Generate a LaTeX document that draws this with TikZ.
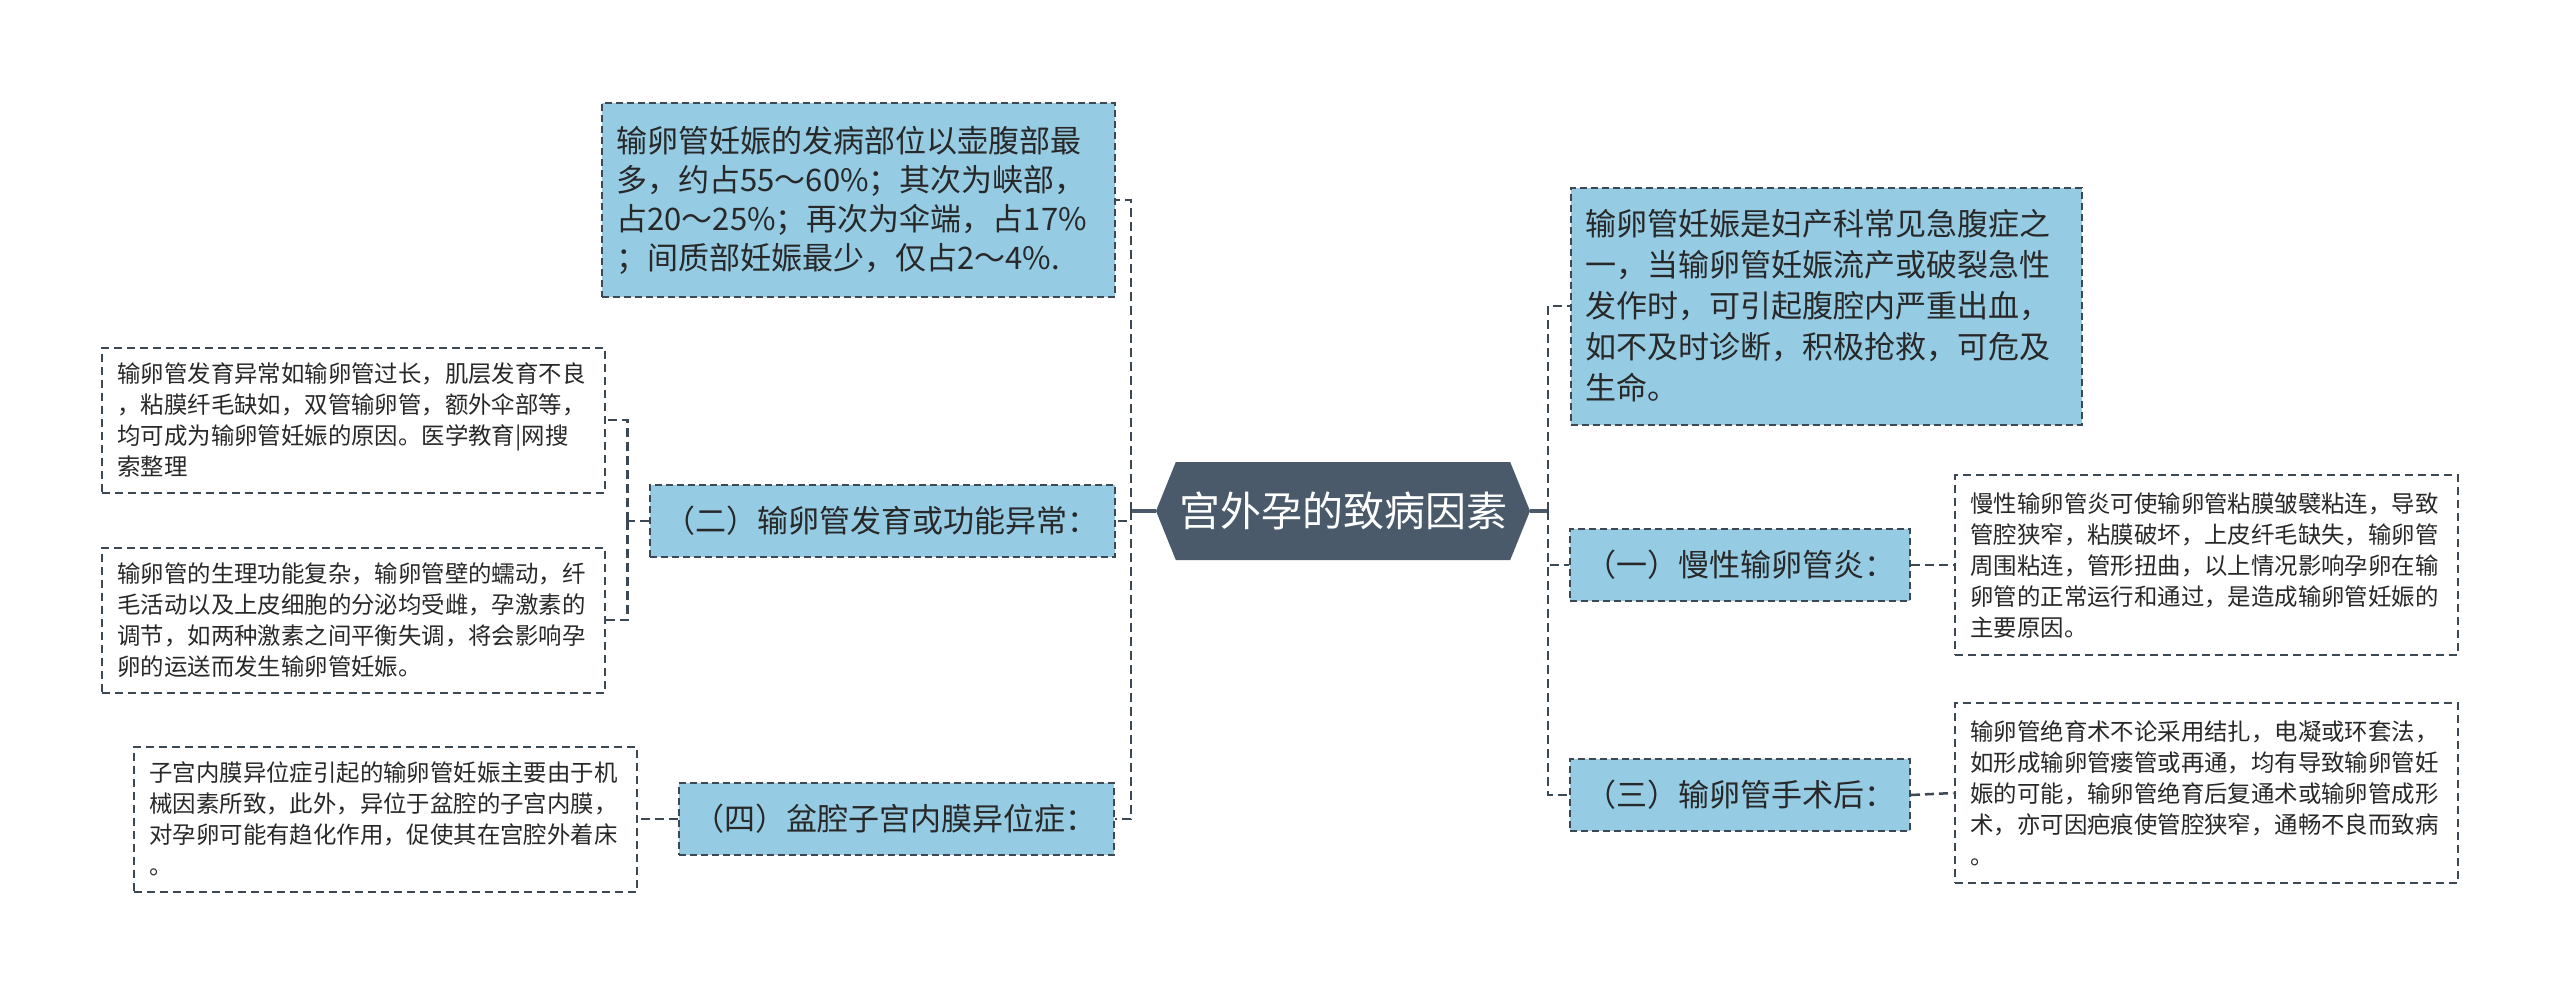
\documentclass[tikz,border=0pt]{standalone}
\usepackage{fontspec}
\setmainfont{Noto Sans CJK SC}
\usetikzlibrary{shapes.symbols}
\definecolor{rootfill}{RGB}{74,90,106}
\definecolor{topicfill}{RGB}{149,203,227}
\definecolor{edgegray}{RGB}{60,72,84}
\definecolor{inkgray}{RGB}{40,40,40}
\tikzset{
  rootnode/.style={signal, signal to=east and west, signal pointer angle=136,
    fill=rootfill, text=white, font=\fontsize{41}{49}\selectfont,
    minimum width=374pt, minimum height=98pt, inner sep=0pt},
  topic/.style={draw=edgegray, line width=2pt, dash pattern=on 7pt off 4pt,
    fill=topicfill, text=inkgray, font=\fontsize{31}{39}\selectfont,
    align=left, inner xsep=15pt, inner ysep=0pt},
  note/.style={draw=edgegray, line width=2pt, dash pattern=on 8pt off 5pt,
    fill=white, text=inkgray, font=\fontsize{23.4}{31}\selectfont,
    align=left, inner xsep=16pt, inner ysep=0pt, text width=471pt,
    minimum height=145pt},
  link/.style={draw=edgegray, line width=2.5pt, dash pattern=on 9pt off 5pt},
  stub/.style={draw=rootfill, line width=3.5pt},
}
\begin{document}
\begin{tikzpicture}[x=1pt, y=-1pt]
  \useasboundingbox[fill=white] (0,0) rectangle (2560,996);
  %
  % Root
  \node[rootnode] (root) at (1343,511) {宫外孕的致病因素};
  %
  % Left branch
  \node[topic, text width=483pt, minimum height=194pt] (site) at (858,200)
    {输卵管妊娠的发病部位以壶腹部最\\多，约占55～60\%；其次为峡部，\\占20～25\%；再次为伞端，占17\%\\；间质部妊娠最少，仅占2～4\%.};
  \node[topic, text width=435pt, minimum height=72pt] (devfunc) at (882,521)
    {（二）输卵管发育或功能异常：};
  \node[topic, text width=405pt, minimum height=72pt] (endomet) at (896,819)
    {（四）盆腔子宫内膜异位症：};
  \node[note] (devnote) at (353,420)
    {输卵管发育异常如输卵管过长，肌层发育不良\\，粘膜纤毛缺如，双管输卵管，额外伞部等，\\均可成为输卵管妊娠的原因。医学教育|网搜\\索整理};
  \node[note] (physnote) at (353,620)
    {输卵管的生理功能复杂，输卵管壁的蠕动，纤\\毛活动以及上皮细胞的分泌均受雌，孕激素的\\调节，如两种激素之间平衡失调，将会影响孕\\卵的运送而发生输卵管妊娠。};
  \node[note] (endonote) at (385,819)
    {子宫内膜异位症引起的输卵管妊娠主要由于机\\械因素所致，此外，异位于盆腔的子宫内膜，\\对孕卵可能有趋化作用，促使其在宫腔外着床\\。};
  %
  % Right branch
  \node[topic, text width=481pt, minimum height=237pt,
    font=\fontsize{31}{41}\selectfont] (intro) at (1826,306)
    {输卵管妊娠是妇产科常见急腹症之\\一，当输卵管妊娠流产或破裂急性\\发作时，可引起腹腔内严重出血，\\如不及时诊断，积极抢救，可危及\\生命。};
  \node[topic, text width=310pt, minimum height=72pt] (chronic) at (1740,565)
    {（一）慢性输卵管炎：};
  \node[topic, text width=310pt, minimum height=72pt] (surgery) at (1740,795)
    {（三）输卵管手术后：};
  \node[note, minimum height=180pt] (chronicnote) at (2206,565)
    {慢性输卵管炎可使输卵管粘膜皱襞粘连，导致\\管腔狭窄，粘膜破坏，上皮纤毛缺失，输卵管\\周围粘连，管形扭曲，以上情况影响孕卵在输\\卵管的正常运行和通过，是造成输卵管妊娠的\\主要原因。};
  \node[note, minimum height=180pt] (surgerynote) at (2206,793)
    {输卵管绝育术不论采用结扎，电凝或环套法，\\如形成输卵管瘘管或再通，均有导致输卵管妊\\娠的可能，输卵管绝育后复通术或输卵管成形\\术，亦可因疤痕使管腔狭窄，通畅不良而致病\\。};
  %
  % Connectors
  \coordinate (ltrunk) at (1131,511);
  \coordinate (rtrunk) at (1548,511);
  \draw[stub] (root.west) -- (ltrunk);
  \draw[stub] (root.east) -- (rtrunk);
  \draw[link] (ltrunk) |- (site.east);
  \draw[link] (ltrunk) |- (devfunc.east);
  \draw[link] (ltrunk) |- (endomet.east);
  \draw[link] (devfunc.west) -- ++(-21,0) coordinate (lsub);
  \draw[link] (lsub) |- (devnote.east);
  \draw[link] (lsub) |- (physnote.east);
  \draw[link] (endomet.west) -- (endonote.east);
  \draw[link] (rtrunk) |- (intro.west);
  \draw[link] (rtrunk) |- (chronic.west);
  \draw[link] (rtrunk) |- (surgery.west);
  \draw[link] (chronic.east) -- (chronicnote.west);
  \draw[link] (surgery.east) -- (surgerynote.west);
\end{tikzpicture}
\end{document}
